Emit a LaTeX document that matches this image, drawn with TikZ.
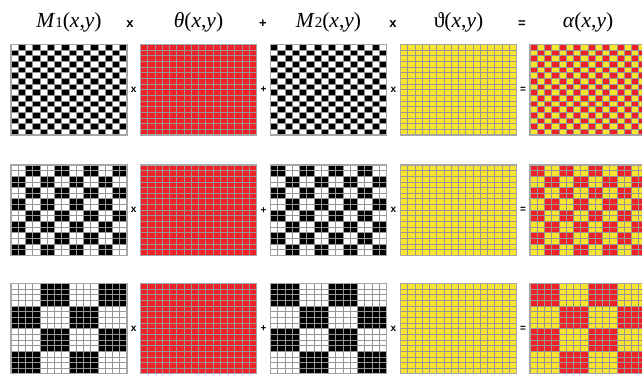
\documentclass[tikz,border=0pt]{standalone}
\usepackage{fontspec}
\setmainfont{Liberation Serif}
\newfontfamily\opfont{Liberation Sans}

\definecolor{thetared}{RGB}{237,33,39}
\definecolor{varyellow}{RGB}{249,228,48}
\definecolor{linegray}{RGB}{150,150,150}

\tikzset{
  cellgrid/.style={linegray, line width=0.9pt},
  panelframe/.style={linegray!85, line width=1.4pt},
  head/.style={font=\fontsize{21.5}{24}\selectfont, inner sep=0pt},
  headop/.style={font=\opfont\bfseries\fontsize{13}{14}\selectfont, inner sep=0pt},
  op/.style={font=\opfont\bfseries\fontsize{10}{12}\selectfont, inner sep=0pt}
}

% panel size and cell size (16 x 16 cells)
\def\pw{116}\def\ph{90.5}\def\cw{7.25}\def\ch{5.65625}

% #1 left, #2 top, #3 ground, #4 cell colour, #5 block size (0 = plain), #6 parity
\newcommand{\panel}[6]{%
  \begin{scope}[shift={(#1,-#2)}]
    \fill[#3] (0,0) rectangle (\pw,-\ph);
    \ifnum#5>0
      \foreach \i in {0,...,15}{
        \foreach \j in {0,...,15}{
          \pgfmathtruncatemacro{\odd}{mod(floor(\i/#5)+floor(\j/#5)+#6,2)}
          \ifnum\odd=1 \fill[#4] (\i*\cw,-\j*\ch) rectangle ++(\cw,-\ch);\fi
        }}
    \fi
    \foreach \k in {1,...,15}{
      \draw[cellgrid] (\k*\cw,0) -- (\k*\cw,-\ph);
      \draw[cellgrid] (0,-\k*\ch) -- (\pw,-\k*\ch);
    }
    \draw[panelframe] (0,0) rectangle (\pw,-\ph);
  \end{scope}}

\newcommand{\idx}[1]{{\fontsize{15}{16}\selectfont #1}}

\begin{document}
\begin{tikzpicture}[x=1pt, y=1pt]
  \useasboundingbox (0,0) rectangle (642,-373);
  \clip (0,0) rectangle (642,-373);

  % headings
  \node[head] (hm1) at (69,-22) {\textit{M}\idx{1}(\textit{x},\textit{y})};
  \node[headop] (hx1) at (130,-24) {x};
  \node[head] (htheta) at (198.5,-22) {\textit{θ}(\textit{x},\textit{y})};
  \node[headop] (hplus) at (263,-24) {+};
  \node[head] (hm2) at (328.5,-22) {\textit{M}\idx{2}(\textit{x},\textit{y})};
  \node[headop] (hx2) at (393,-24) {x};
  \node[head] (hvartheta) at (458.5,-22) {ϑ(\textit{x},\textit{y})};
  \node[headop] (heq) at (522,-24) {=};
  \node[head] (halpha) at (588,-22) {\textit{α}(\textit{x},\textit{y})};

  % rows: top edge / block size
  \foreach \top/\b in {44.5/1, 165/2, 283.5/4}{
    \panel{11}{\top}{white}{black}{\b}{0}
    \panel{140.5}{\top}{thetared}{}{0}{0}
    \panel{270.5}{\top}{white}{black}{\b}{1}
    \panel{400.5}{\top}{varyellow}{}{0}{0}
    \panel{530}{\top}{varyellow}{thetared}{\b}{1}

    \node[op] (xa\b) at (133.6,-\top-45.25) {x};
    \node[op] (plus\b) at (263.5,-\top-45.25) {+};
    \node[op] (xb\b) at (393.5,-\top-45.25) {x};
    \node[op] (eq\b) at (523,-\top-45.25) {=};
  }
\end{tikzpicture}
\end{document}
